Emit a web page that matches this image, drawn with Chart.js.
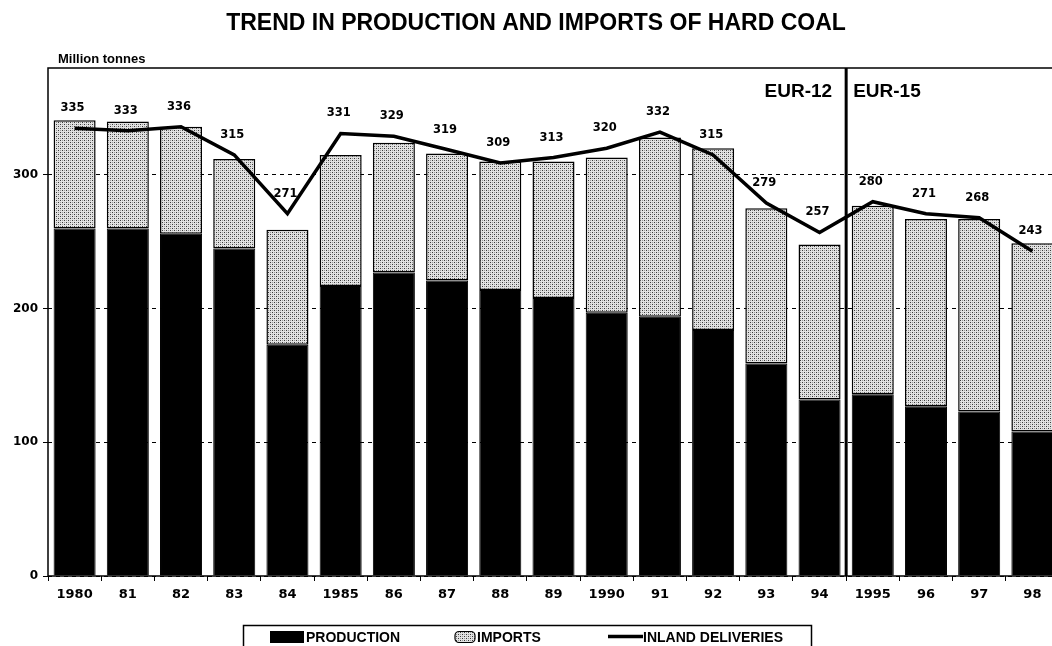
<!DOCTYPE html>
<html>
<head>
<meta charset="utf-8">
<title>Trend in production and imports of hard coal</title>
<script src="https://cdn.jsdelivr.net/npm/chart.js"></script>
<style>
  html, body { margin: 0; padding: 0; background: #fff; overflow: hidden; }
  #wrap { position: relative; width: 1062px; height: 646px; }
</style>
</head>
<body>
<div id="wrap"><canvas id="coalChart"></canvas></div>
<script>
// Million tonnes
const years = ['1980', '81', '82', '83', '84', '1985', '86', '87', '88', '89',
  '1990', '91', '92', '93', '94', '1995', '96', '97', '98'];
const production = [260, 260, 256, 245, 173, 217, 227, 221, 214, 208, 197, 194, 184, 159, 132, 136, 127, 123, 108];
const imports = [81, 80, 80, 67, 86, 98, 97, 95, 96, 102, 116, 134, 136, 116, 116, 141, 140, 144, 141];
const inlandDeliveries = [335, 333, 336, 315, 271, 331, 329, 319, 309, 313, 320, 332, 315, 279, 257, 280, 271, 268, 243];
const yTicks = [0, 100, 200, 300];
const regions = ['EUR-12', 'EUR-15'];
const splitIndex = 15; // EUR-15 starts in 1995

// stippled grey fill for the imports bars
function makeStipple() {
  const c = document.createElement('canvas');
  c.width = 4; c.height = 4;
  const g = c.getContext('2d');
  g.fillStyle = '#e2e2e2';
  g.fillRect(0, 0, 4, 4);
  g.fillStyle = '#3a3a3a';
  g.fillRect(0, 0, 1, 1);
  g.fillRect(2, 2, 1, 1);
  g.fillStyle = '#9a9a9a';
  g.fillRect(2, 0, 1, 1);
  g.fillRect(0, 2, 1, 1);
  return g.createPattern(c, 'repeat');
}
const stipple = makeStipple();

const numFont = 'DejaVu Sans';
const textFont = 'Liberation Sans';

const extras = {
  id: 'extras',
  afterDatasetsDraw(chart) {
    const { ctx, chartArea: a, scales: { x, y } } = chart;
    ctx.save();

    // frame around the plot
    ctx.strokeStyle = '#000';
    ctx.lineWidth = 1.5;
    ctx.strokeRect(a.left, a.top, a.right - a.left, a.bottom - a.top);

    // EUR-12 / EUR-15 divider
    const sx = x.getPixelForValue(splitIndex - 0.5);
    ctx.lineWidth = 3;
    ctx.beginPath();
    ctx.moveTo(sx, a.top);
    ctx.lineTo(sx, a.bottom);
    ctx.stroke();

    ctx.fillStyle = '#000';
    ctx.font = 'bold 19px ' + textFont;
    ctx.textBaseline = 'middle';
    ctx.textAlign = 'right';
    ctx.fillText(regions[0], sx - 14, a.top + 24);
    ctx.textAlign = 'left';
    ctx.fillText(regions[1], sx + 7, a.top + 24);

    // values over the inland deliveries line
    ctx.font = 'bold 11.5px ' + numFont;
    ctx.textAlign = 'center';
    inlandDeliveries.forEach((v, i) => {
      ctx.fillText(String(v), x.getPixelForValue(i) - 2, y.getPixelForValue(v) - 20);
    });
    ctx.restore();
  },
  afterDraw(chart) {
    const { ctx, chartArea: a } = chart;
    ctx.save();
    ctx.fillStyle = '#000';
    ctx.textBaseline = 'middle';

    ctx.font = 'bold 23px ' + textFont;
    ctx.textAlign = 'center';
    ctx.fillText('TREND IN PRODUCTION AND IMPORTS OF HARD COAL', 536, 24);

    ctx.font = 'bold 13px ' + textFont;
    ctx.textAlign = 'left';
    ctx.fillText('Million tonnes', a.left + 10, 59);

    // legend box at the bottom
    const ds = chart.data.datasets;
    ctx.strokeStyle = '#000';
    ctx.lineWidth = 1.5;
    ctx.strokeRect(243.5, 625.5, 568, 40);
    ctx.font = 'bold 14px ' + textFont;

    ctx.fillRect(270, 631, 34, 12);
    ctx.fillText(ds[0].label, 306, 638);

    ctx.fillStyle = stipple;
    ctx.beginPath();
    ctx.roundRect(455, 631.5, 20, 11, 4);
    ctx.fill();
    ctx.lineWidth = 1.2;
    ctx.stroke();
    ctx.fillStyle = '#000';
    ctx.fillText(ds[1].label, 477, 638);

    ctx.lineWidth = 3.5;
    ctx.beginPath();
    ctx.moveTo(608, 636.5);
    ctx.lineTo(643, 636.5);
    ctx.stroke();
    ctx.fillText(ds[2].label, 643, 638);
    ctx.restore();
  }
};

const ctx = document.getElementById('coalChart').getContext('2d');
new Chart(ctx, {
  type: 'bar',
  data: {
    labels: years,
    datasets: [
      {
        label: 'PRODUCTION',
        data: production,
        backgroundColor: '#000',
        borderColor: '#000',
        borderWidth: 1,
        barPercentage: 0.79,
        categoryPercentage: 1,
        stack: 'supply',
        order: 1
      },
      {
        label: 'IMPORTS',
        data: imports,
        backgroundColor: stipple,
        borderColor: '#000',
        borderWidth: 1.5,
        borderSkipped: false,
        barPercentage: 0.79,
        categoryPercentage: 1,
        stack: 'supply',
        order: 1
      },
      {
        type: 'line',
        label: 'INLAND DELIVERIES',
        data: inlandDeliveries,
        borderColor: '#000',
        borderWidth: 3.5,
        pointRadius: 0,
        tension: 0,
        fill: false,
        stack: 'deliveries',
        order: 0
      }
    ]
  },
  options: {
    responsive: true,
    maintainAspectRatio: false,
    animation: false,
    layout: { padding: { top: 68, right: 3, left: 0, bottom: 0 } },
    plugins: {
      legend: { display: false },
      tooltip: { enabled: false }
    },
    scales: {
      x: {
        stacked: true,
        afterFit: (s) => { s.height = 70; },
        border: { display: false },
        grid: { drawOnChartArea: false, tickLength: 5, color: '#000', lineWidth: 1 },
        ticks: {
          color: '#000',
          font: { family: numFont, weight: 'bold', size: 13 },
          padding: 6,
          maxRotation: 0,
          autoSkip: false
        }
      },
      y: {
        stacked: true,
        min: 0,
        max: 380,
        afterFit: (s) => { s.width = 48; },
        afterBuildTicks: (s) => { s.ticks = yTicks.map(v => ({ value: v })); },
        border: { display: false, dash: [4, 4] },
        grid: { color: '#000', lineWidth: 1, tickLength: 5, tickBorderDash: [] },
        ticks: {
          color: '#000',
          font: { family: numFont, weight: 'bold', size: 12 },
          padding: 5
        }
      }
    }
  },
  plugins: [extras]
});
</script>
</body>
</html>
